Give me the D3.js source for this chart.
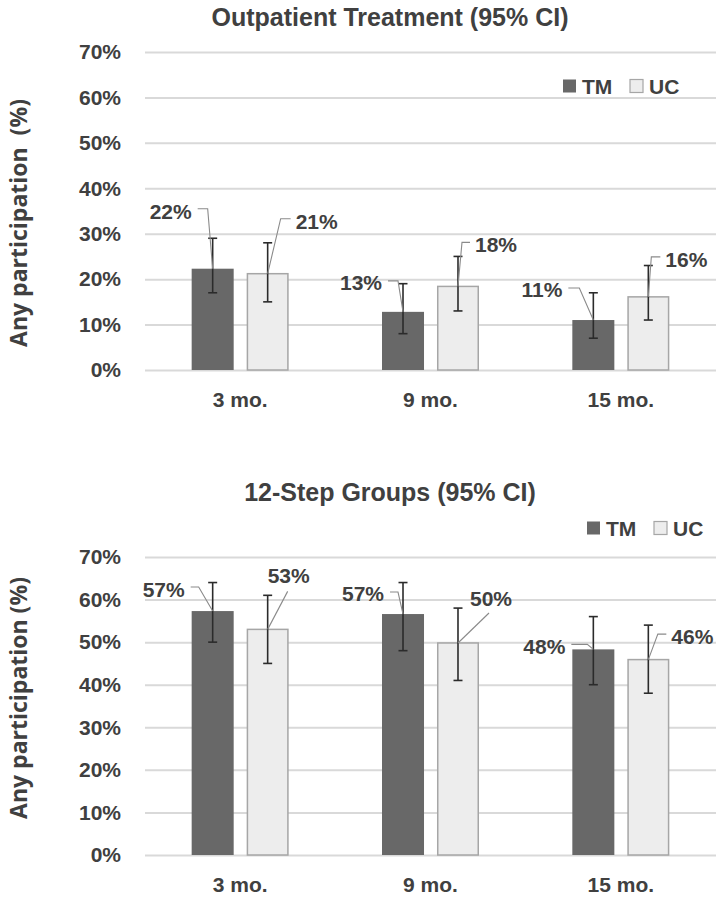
<!DOCTYPE html>
<html>
<head>
<meta charset="utf-8">
<script src="https://cdn.jsdelivr.net/npm/d3@7"></script>
<style>
  html, body { margin: 0; padding: 0; background: #fff; }
  svg { display: block; }
</style>
</head>
<body>
<svg id="chart" width="724" height="900"></svg>
<script>
// ---------------- DATA ----------------
const categories = ["3 mo.", "9 mo.", "15 mo."];
const series = ["TM", "UC"];
const yTicks = [0, 10, 20, 30, 40, 50, 60, 70];

// Outpatient Treatment (95% CI)
const outpatientTM = [22.3, 12.8, 11.0];
const outpatientTMLow = [17, 8, 7];
const outpatientTMHigh = [29, 19, 17];
const outpatientUC = [21.2, 18.4, 16.1];
const outpatientUCLow = [15, 13, 11];
const outpatientUCHigh = [28, 25, 23];

// 12-Step Groups (95% CI)
const stepTM = [57.3, 56.6, 48.3];
const stepTMLow = [50, 48, 40];
const stepTMHigh = [64, 64, 56];
const stepUC = [53.0, 49.8, 45.9];
const stepUCLow = [45, 41, 38];
const stepUCHigh = [61, 58, 54];

// ---------------- LAYOUT (label callout offsets, relative to bar top) ----------------
const outpatientCallouts = {
  TM: [{ex:-5, ey:-60, leg:-10, ty:2.5}, {ex:-5, ey:-31, leg:-10, ty:2}, {ex:-14, ey:-32, leg:-11, ty:1.5}],
  UC: [{ex:13, ey:-55, leg:10, ty:2.5}, {ex:4, ey:-44, leg:8, ty:2}, {ex:3, ey:-40, leg:9, ty:2.5}]
};
const stepCallouts = {
  TM: [{ex:-14, ey:-24, leg:-8, ty:3}, {ex:-5, ey:-22, leg:-8, ty:2}, {ex:-6, ey:-5, leg:-16, ty:2.5}],
  UC: [{ex:20, ey:-38, leg:0, tx:0, ty:-16, anchor:"start"}, {ex:31, ey:-30, leg:0, tx:12, ty:-14, anchor:"start"}, {ex:9.5, ey:-25.5, leg:8.5, ty:3}]
};

const svg = d3.select("#chart");
const FONT = "'Liberation Sans', Arial, sans-serif";
const TEXT = "#404040";
const FS = 21;

function drawChart(cfg) {
  const g = svg.append("g");
  const x0 = d3.scaleBand().domain(categories).range([cfg.left, cfg.right]).padding(0);
  const groupW = 97;
  const x1 = d3.scaleBand().domain(series).range([0, groupW]).paddingInner(0.236).paddingOuter(0);
  const y = d3.scaleLinear().domain([0, 70]).range([cfg.bottom, cfg.top]);

  const yAxis = d3.axisLeft(y).tickValues(yTicks).tickFormat(d => d + "%")
    .tickSize(-(cfg.right - cfg.left)).tickPadding(24);
  const ya = g.append("g").attr("transform", `translate(${cfg.left},0)`).call(yAxis);
  ya.select(".domain").remove();
  ya.selectAll(".tick line").attr("stroke", "#d9d9d9").attr("stroke-width", 2);
  ya.selectAll(".tick text").attr("fill", TEXT).attr("font-family", FONT)
    .attr("font-weight", "bold").attr("font-size", FS);

  const xAxis = d3.axisBottom(x0).tickSize(0).tickPadding(cfg.catPad);
  const xa = g.append("g").attr("transform", `translate(0,${cfg.bottom})`).call(xAxis);
  xa.select(".domain").remove();
  xa.selectAll(".tick text").attr("fill", TEXT).attr("font-family", FONT)
    .attr("font-weight", "bold").attr("font-size", FS);

  const off = (x0.bandwidth() - groupW) / 2;
  const rows = [];
  categories.forEach((c, i) => {
    series.forEach(s => {
      const d = cfg.data[s];
      rows.push({cat: c, s, i, v: d.v[i], lo: d.lo[i], hi: d.hi[i], co: cfg.callouts[s][i]});
    });
  });
  const bx = r => x0(r.cat) + off + x1(r.s);
  const bw = x1.bandwidth();

  g.selectAll("rect.bar").data(rows).join("rect").attr("class", "bar")
    .attr("x", r => bx(r) + (r.s === "UC" ? 0.75 : 0))
    .attr("y", r => y(r.v))
    .attr("width", r => bw - (r.s === "UC" ? 1.5 : 0))
    .attr("height", r => y(0) - y(r.v))
    .attr("fill", r => r.s === "TM" ? "#686868" : "#ededed")
    .attr("stroke", r => r.s === "TM" ? "none" : "#a6a6a6")
    .attr("stroke-width", 1.5);

  const eb = g.selectAll("g.err").data(rows).join("g").attr("class", "err")
    .attr("stroke", "#2b2b2b").attr("stroke-width", 1.6);
  eb.append("line").attr("x1", r => bx(r) + bw / 2).attr("x2", r => bx(r) + bw / 2)
    .attr("y1", r => y(r.lo)).attr("y2", r => y(r.hi));
  eb.append("line").attr("x1", r => bx(r) + bw / 2 - 4.5).attr("x2", r => bx(r) + bw / 2 + 4.5)
    .attr("y1", r => y(r.lo)).attr("y2", r => y(r.lo));
  eb.append("line").attr("x1", r => bx(r) + bw / 2 - 4.5).attr("x2", r => bx(r) + bw / 2 + 4.5)
    .attr("y1", r => y(r.hi)).attr("y2", r => y(r.hi));

  rows.forEach(r => {
    const cx = bx(r) + bw / 2, cy = y(r.v);
    const co = r.co;
    const ex = cx + co.ex, ey = cy + co.ey;
    const lx = ex + co.leg;
    g.append("path").attr("d", `M${cx},${cy}L${ex},${ey}L${lx},${ey}`)
      .attr("fill", "none").attr("stroke", "#8a8a8a").attr("stroke-width", 1.1);
    let anchor, tx;
    if (co.anchor) { anchor = co.anchor; tx = cx + (co.tx || 0); }
    else if (co.leg < 0) { anchor = "end"; tx = lx - 6; }
    else { anchor = "start"; tx = lx + 5; }
    const tyy = ey + co.ty;
    g.append("text").attr("x", tx).attr("y", tyy).attr("dy", "0.35em")
      .attr("text-anchor", anchor).attr("fill", TEXT).attr("font-family", FONT)
      .attr("font-weight", "bold").attr("font-size", FS)
      .text(Math.round(r.v) + "%");
  });

  g.append("text").attr("x", cfg.titleX).attr("y", cfg.titleY).attr("text-anchor", "middle")
    .attr("fill", TEXT).attr("font-family", FONT).attr("font-weight", "bold").attr("font-size", 25)
    .text(cfg.title);

  g.append("text").attr("transform", `translate(${cfg.yTitleX},${cfg.yTitleY}) rotate(-90)`)
    .attr("text-anchor", "middle").attr("fill", TEXT)
    .attr("font-family", "'Open Sans', sans-serif").attr("font-weight", "bold").attr("font-size", 23)
    .style("white-space", "pre")
    .text(cfg.yTitle);

  const lg = g.append("g").attr("transform", `translate(${cfg.legendX},${cfg.legendY})`);
  const items = lg.selectAll("g").data(series).join("g")
    .attr("transform", (d, i) => `translate(${i * 67},0)`);
  items.append("rect").attr("x", 0).attr("y", -6.5).attr("width", 13).attr("height", 13)
    .attr("fill", d => d === "TM" ? "#686868" : "#ededed")
    .attr("stroke", d => d === "TM" ? "none" : "#a6a6a6").attr("stroke-width", 1.2);
  items.append("text").attr("x", 19).attr("y", 0).attr("dy", "0.36em")
    .attr("fill", TEXT).attr("font-family", FONT).attr("font-weight", "bold").attr("font-size", FS)
    .text(d => d);
}

drawChart({
  left: 145, right: 716, top: 52, bottom: 370, catPad: 22,
  title: "Outpatient Treatment (95% CI)", titleX: 390, titleY: 26,
  yTitle: "Any participation  (%)", yTitleX: 27, yTitleY: 223,
  legendX: 563, legendY: 86,
  data: {
    TM: {v: outpatientTM, lo: outpatientTMLow, hi: outpatientTMHigh},
    UC: {v: outpatientUC, lo: outpatientUCLow, hi: outpatientUCHigh}
  },
  callouts: outpatientCallouts
});

drawChart({
  left: 145, right: 716, top: 557, bottom: 855, catPad: 22,
  title: "12-Step Groups (95% CI)", titleX: 390, titleY: 501,
  yTitle: "Any participation (%)", yTitleX: 27, yTitleY: 698,
  legendX: 587, legendY: 528,
  data: {
    TM: {v: stepTM, lo: stepTMLow, hi: stepTMHigh},
    UC: {v: stepUC, lo: stepUCLow, hi: stepUCHigh}
  },
  callouts: stepCallouts
});
</script>
</body>
</html>
